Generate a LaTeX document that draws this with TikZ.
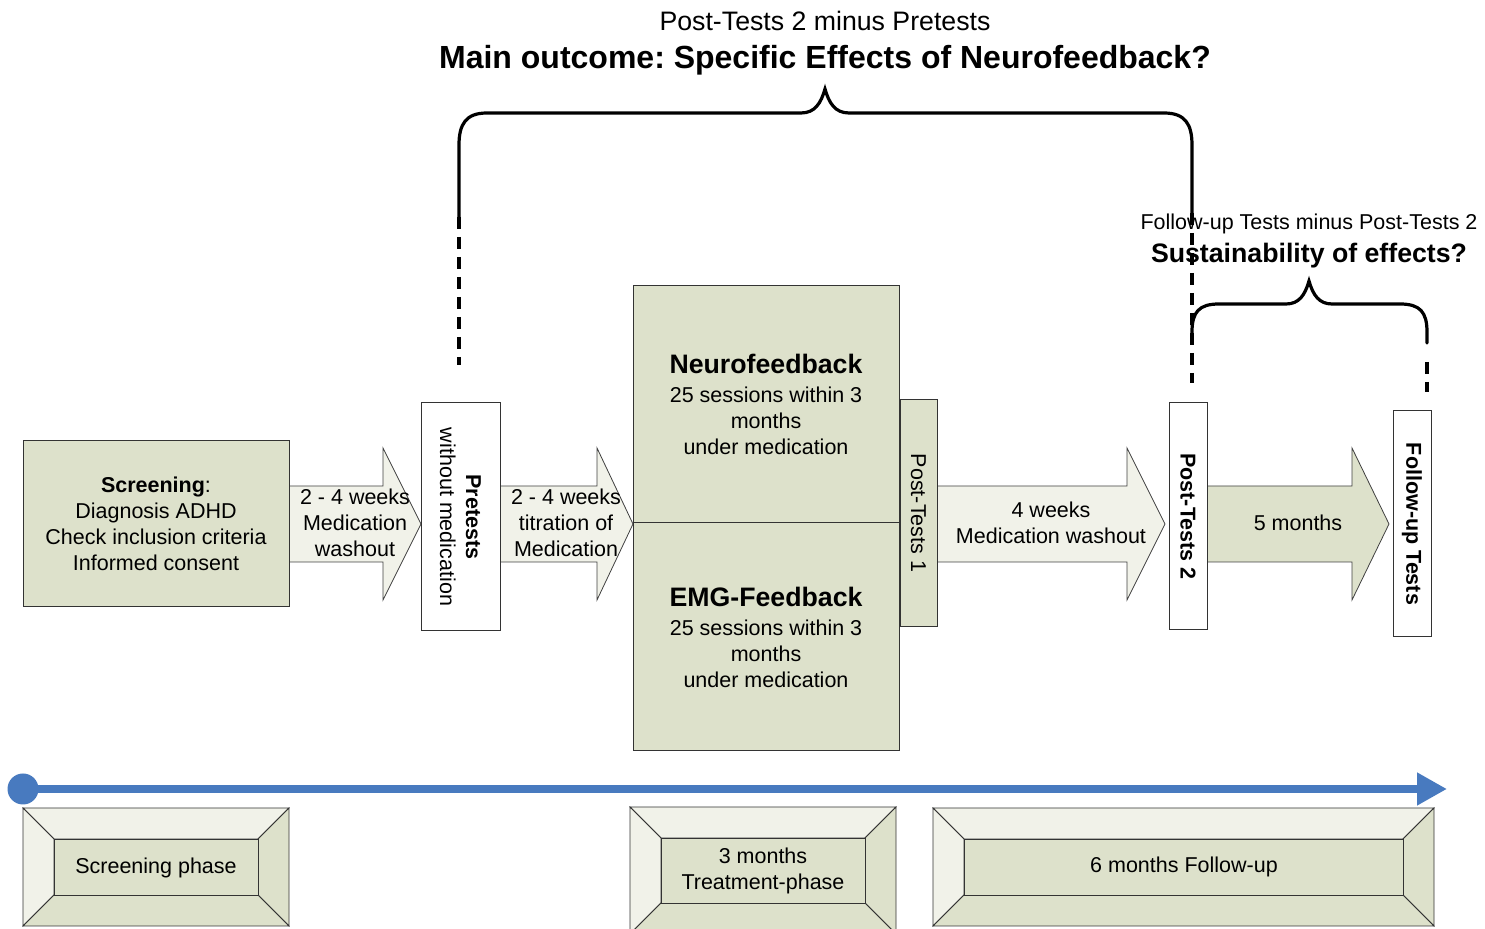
\documentclass[tikz,border=0pt]{standalone}
\usepackage{fontspec}
\setmainfont{Liberation Sans}
\usetikzlibrary{arrows.meta}
\definecolor{fbolive}{RGB}{221,225,203}
\definecolor{fbpale}{RGB}{241,242,233}
\definecolor{fbblue}{RGB}{72,122,191}
\frenchspacing

\begin{document}
\begin{tikzpicture}[x=0.5pt,y=-0.5pt,
  every node/.style={font=\fontsize{10.75}{13}\selectfont, align=center},
  box/.style={draw=black!80, line width=0.5pt, inner sep=1pt},
  block/.style={draw=black!75, line width=0.4pt},
  bevel/.style={draw=black!80, line width=0.4pt},
  brace/.style={line width=1.6pt, line cap=round},
  guide/.style={line width=1.6pt, dash pattern=on 6pt off 4pt},
  head/.style={font=\fontsize{13.35}{16}\selectfont\bfseries}]
\useasboundingbox (0,0) rectangle (1485,929);

% block arrows between the stages
\foreach \xa/\xb/\xc/\col in {289/383/421/fbpale, 500/597/633/fbpale, 937/1127/1165/fbpale, 1207/1352/1389/fbolive}
  \filldraw[block, fill=\col] (\xa,486) -- (\xb,486) -- (\xb,448) -- (\xc,524) -- (\xb,600) -- (\xb,562) -- (\xa,562);
\node (wk1) at (355,523) {2 - 4 weeks\\Medication\\washout};
\node (wk2) at (566,523) {2 - 4 weeks\\titration of\\Medication};
\node (wk3) at (1051,523) {4 weeks\\Medication washout};
\node (mon5) at (1298,523) {5 months};

% stages
\node[box, fill=fbolive, minimum width=133pt, minimum height=83pt] (screen) at (156,524) {\textbf{Screening}:\\Diagnosis ADHD\\Check inclusion criteria\\Informed consent};
\node[box, fill=white, rotate=-90, minimum width=114pt, minimum height=39.5pt] (pre) at (460.5,517) {\textbf{Pretests}\\without medication};
\node[box, fill=fbolive, minimum width=133pt, minimum height=118.5pt] (neuro) at (766,404.5) {{\fontsize{13.35}{16}\selectfont\bfseries Neurofeedback}\\[1.5pt]25 sessions within 3\\months\\under medication};
\node[box, fill=fbolive, minimum width=133pt, minimum height=114pt] (emg) at (766,637) {{\fontsize{13.35}{16}\selectfont\bfseries EMG-Feedback}\\[1.5pt]25 sessions within 3\\months\\under medication};
\node[box, fill=fbolive, rotate=-90, minimum width=113.5pt, minimum height=18.5pt] (post1) at (918.5,513) {Post-Tests 1};
\node[box, fill=white, rotate=-90, minimum width=113.5pt, minimum height=19pt] (post2) at (1188,516.5) {\textbf{Post-Tests 2}};
\node[box, fill=white, rotate=-90, minimum width=113pt, minimum height=19pt] (fup) at (1412,524) {\textbf{Follow-up Tests}};

% comparisons
\coordinate (preguide) at (459,365);
\coordinate (postguide) at (1192,383);
\coordinate (fupguide) at (1427,392);
\draw[guide] (459,217) -- (preguide);
\draw[guide] (1192,213) -- (postguide);
\draw[guide] (1427,362) -- (fupguide);
\draw[brace] (459,217) -- (459,145) .. controls (459,124) and (466,113) .. (487,113) -- (801,113)
  .. controls (815,113) and (821,103) .. (825,89) .. controls (829,103) and (835,113) .. (849,113)
  -- (1164,113) .. controls (1185,113) and (1192,124) .. (1192,145) -- (1192,213);
\draw[brace] (1192,343) -- (1192,332) .. controls (1192,312) and (1199,304) .. (1219,304) -- (1286,304)
  .. controls (1299,304) and (1305,295) .. (1309,281) .. controls (1313,295) and (1319,304) .. (1332,304)
  -- (1400,304) .. controls (1420,304) and (1427,312) .. (1427,332) -- (1427,343);
\node[font=\fontsize{13.35}{16}\selectfont] (maintop) at (825,21) {Post-Tests 2 minus Pretests};
\node[font=\fontsize{16}{19}\selectfont\bfseries] (mainq) at (825,60) {Main outcome: Specific Effects of Neurofeedback?};
\node (susttop) at (1309,224) {Follow-up Tests minus Post-Tests 2};
\node[head] (sustq) at (1309,256) {Sustainability of effects?};

% time line
\node[circle, fill=fbblue, inner sep=0pt, minimum size=15.5pt] (tlstart) at (23,789) {};
\coordinate (tlend) at (1447,789);
\draw[line width=4.2pt, fbblue, -{Triangle[length=15pt,width=15.5pt]}] (tlstart.center) -- (tlend);

% phases
\foreach \xa/\ya/\xb/\yb in {23/808/289/926, 630/807/896/934, 933/808/1434/926} {
  \filldraw[bevel, fill=fbpale] (\xa,\ya) -- (\xb,\ya) -- (\xb-31,\ya+31) -- (\xa+31,\ya+31) -- cycle;
  \filldraw[bevel, fill=fbpale] (\xa,\ya) -- (\xa+31,\ya+31) -- (\xa+31,\yb-31) -- (\xa,\yb) -- cycle;
  \filldraw[bevel, fill=fbolive] (\xb,\ya) -- (\xb,\yb) -- (\xb-31,\yb-31) -- (\xb-31,\ya+31) -- cycle;
  \filldraw[bevel, fill=fbolive] (\xa,\yb) -- (\xb,\yb) -- (\xb-31,\yb-31) -- (\xa+31,\yb-31) -- cycle;
  \filldraw[bevel, fill=fbolive] (\xa+31,\ya+31) rectangle (\xb-31,\yb-31);
}
\node (scrphase) at (156,868) {Screening phase};
\node (trtphase) at (763,871) {3 months\\Treatment-phase};
\node (fupphase) at (1184,867) {6 months Follow-up};
\end{tikzpicture}
\end{document}
